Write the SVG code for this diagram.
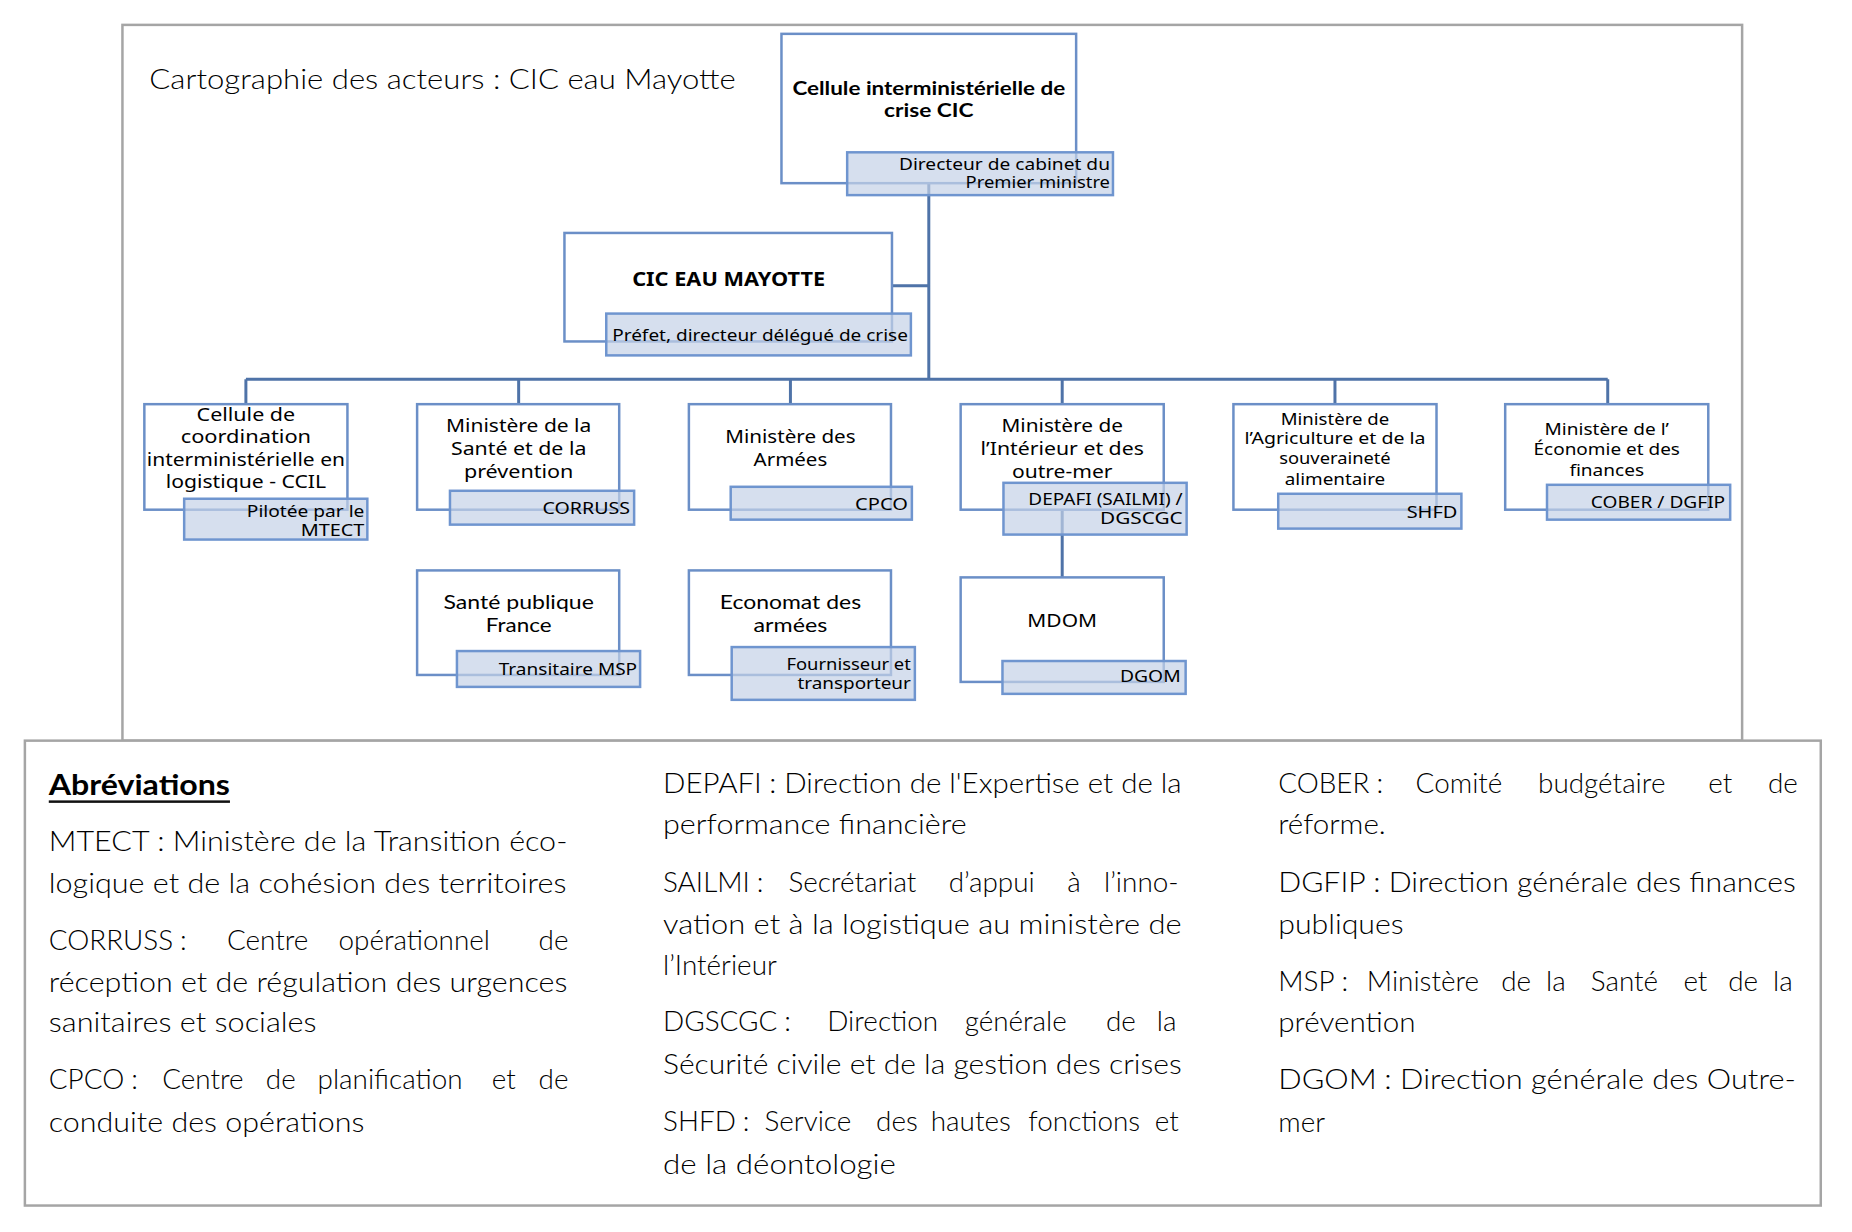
<svg xmlns="http://www.w3.org/2000/svg" width="1852" height="1232" viewBox="0 0 1852 1232">
<style>
.box{fill:#fff;stroke:#6b8fc7;stroke-width:2.5}
.lbl{fill:#c4d1e7;fill-opacity:0.7;stroke:#6f95cf;stroke-width:2.5}
.conn{stroke:#4f73a8;stroke-width:3;fill:none}
.frame{fill:#fff;stroke:#a5a5a5;stroke-width:2.5}
.t{font-family:"Noto Sans","DejaVu Sans",sans-serif;font-size:19px;fill:#000;text-anchor:middle}
.ts{font-size:17px}
.b{font-weight:bold}
.c{font-family:Lato,"Liberation Sans",sans-serif}
.lt{font-family:"Noto Sans","DejaVu Sans",sans-serif;font-size:17px;fill:#000;text-anchor:end}
.ab{font-family:Lato,"Liberation Sans",sans-serif;font-size:28px;font-weight:300;fill:#000}
.ab.b{font-weight:bold}
</style>
<g transform="scale(0.9955)">
<rect class="frame" x="123" y="25" width="1627" height="719"/>
<text class="ab" x="150" y="89" font-size="30" textLength="589" lengthAdjust="spacingAndGlyphs">Cartographie des acteurs : CIC eau Mayotte</text>

<g id="connectors">
<path class="conn" d="M933,184V381M896,287H933M247,381H1615M247,381V406M521,381V406M794,381V406M1067,381V406M1341,381V406M1615,381V406M1067,512V580"/>
</g>

<g id="cic">
<rect class="box" x="785" y="34" width="296" height="150"/>
<rect class="lbl" x="851" y="153" width="267" height="43"/>
<text class="t c b" x="933" y="95" textLength="274" lengthAdjust="spacingAndGlyphs">Cellule interministérielle de</text>
<text class="t c b" x="933" y="118" textLength="90" lengthAdjust="spacingAndGlyphs">crise CIC</text>
<text class="lt c" x="1115" y="171" textLength="212" lengthAdjust="spacingAndGlyphs">Directeur de cabinet du</text>
<text class="lt c" x="1115" y="189" textLength="145" lengthAdjust="spacingAndGlyphs">Premier ministre</text>
</g>

<g id="cic-eau">
<rect class="box" x="567" y="234" width="329" height="109"/>
<rect class="lbl" x="609" y="315" width="306" height="42"/>
<text class="t b" x="732" y="287" textLength="194" lengthAdjust="spacingAndGlyphs">CIC EAU MAYOTTE</text>
<text class="lt" x="912" y="343" textLength="297" lengthAdjust="spacingAndGlyphs">Préfet, directeur délégué de crise</text>
</g>

<g id="ccil">
<rect class="box" x="145" y="406" width="204" height="106"/>
<rect class="lbl" x="185" y="501" width="184" height="41"/>
<text class="t" x="247" y="423" textLength="99" lengthAdjust="spacingAndGlyphs">Cellule de</text>
<text class="t" x="247" y="445" textLength="131" lengthAdjust="spacingAndGlyphs">coordination</text>
<text class="t" x="247" y="468" textLength="199" lengthAdjust="spacingAndGlyphs">interministérielle en</text>
<text class="t" x="247" y="490" textLength="161" lengthAdjust="spacingAndGlyphs">logistique - CCIL</text>
<text class="lt" x="366" y="519" textLength="118" lengthAdjust="spacingAndGlyphs">Pilotée par le</text>
<text class="lt" x="366" y="538" textLength="64" lengthAdjust="spacingAndGlyphs">MTECT</text>
</g>

<g id="sante">
<rect class="box" x="419" y="406" width="203" height="106"/>
<rect class="lbl" x="452" y="493" width="185" height="34"/>
<text class="t" x="521" y="434" textLength="146" lengthAdjust="spacingAndGlyphs">Ministère de la</text>
<text class="t" x="521" y="457" textLength="136" lengthAdjust="spacingAndGlyphs">Santé et de la</text>
<text class="t" x="521" y="480" textLength="110" lengthAdjust="spacingAndGlyphs">prévention</text>
<text class="lt" x="633" y="516" textLength="88" lengthAdjust="spacingAndGlyphs">CORRUSS</text>
</g>

<g id="armees">
<rect class="box" x="692" y="406" width="203" height="106"/>
<rect class="lbl" x="734" y="489" width="182" height="33"/>
<text class="t" x="794" y="445" textLength="131" lengthAdjust="spacingAndGlyphs">Ministère des</text>
<text class="t" x="794" y="468" textLength="74" lengthAdjust="spacingAndGlyphs">Armées</text>
<text class="lt" x="912" y="512" textLength="53" lengthAdjust="spacingAndGlyphs">CPCO</text>
</g>

<g id="interieur">
<rect class="box" x="965" y="406" width="204" height="106"/>
<rect class="lbl" x="1008" y="485" width="184" height="52"/>
<text class="t" x="1067" y="434" textLength="122" lengthAdjust="spacingAndGlyphs">Ministère de</text>
<text class="t" x="1067" y="457" textLength="164" lengthAdjust="spacingAndGlyphs">l’Intérieur et des</text>
<text class="t" x="1067" y="480" textLength="101" lengthAdjust="spacingAndGlyphs">outre-mer</text>
<text class="lt" x="1188" y="507" textLength="155" lengthAdjust="spacingAndGlyphs">DEPAFI (SAILMI) /</text>
<text class="lt" x="1188" y="526" textLength="83" lengthAdjust="spacingAndGlyphs">DGSCGC</text>
</g>

<g id="agriculture">
<rect class="box" x="1239" y="406" width="204" height="106"/>
<rect class="lbl" x="1284" y="496" width="184" height="35"/>
<text class="t ts" x="1341" y="427" textLength="109" lengthAdjust="spacingAndGlyphs">Ministère de</text>
<text class="t ts" x="1341" y="446" textLength="182" lengthAdjust="spacingAndGlyphs">l’Agriculture et de la</text>
<text class="t ts" x="1341" y="466" textLength="112" lengthAdjust="spacingAndGlyphs">souveraineté</text>
<text class="t ts" x="1341" y="487" textLength="101" lengthAdjust="spacingAndGlyphs">alimentaire</text>
<text class="lt" x="1464" y="520" textLength="51" lengthAdjust="spacingAndGlyphs">SHFD</text>
</g>

<g id="economie">
<rect class="box" x="1512" y="406" width="204" height="106"/>
<rect class="lbl" x="1554" y="487" width="184" height="35"/>
<text class="t ts" x="1614" y="437" textLength="125" lengthAdjust="spacingAndGlyphs">Ministère de l’</text>
<text class="t ts" x="1614" y="457" textLength="147" lengthAdjust="spacingAndGlyphs">Économie et des</text>
<text class="t ts" x="1614" y="478" textLength="75" lengthAdjust="spacingAndGlyphs">finances</text>
<text class="lt" x="1733" y="510" textLength="135" lengthAdjust="spacingAndGlyphs">COBER / DGFIP</text>
</g>

<g id="spf">
<rect class="box" x="419" y="573" width="203" height="105"/>
<rect class="lbl" x="459" y="654" width="184" height="36"/>
<text class="t c" x="521" y="612" textLength="151" lengthAdjust="spacingAndGlyphs">Santé publique</text>
<text class="t c" x="521" y="635" textLength="66" lengthAdjust="spacingAndGlyphs">France</text>
<text class="lt c" x="640" y="678" textLength="139" lengthAdjust="spacingAndGlyphs">Transitaire MSP</text>
</g>

<g id="economat">
<rect class="box" x="692" y="573" width="203" height="105"/>
<rect class="lbl" x="735" y="650" width="184" height="53"/>
<text class="t c" x="794" y="612" textLength="142" lengthAdjust="spacingAndGlyphs">Economat des</text>
<text class="t c" x="794" y="635" textLength="74" lengthAdjust="spacingAndGlyphs">armées</text>
<text class="lt c" x="915" y="673" textLength="125" lengthAdjust="spacingAndGlyphs">Fournisseur et</text>
<text class="lt c" x="915" y="692" textLength="114" lengthAdjust="spacingAndGlyphs">transporteur</text>
</g>

<g id="mdom">
<rect class="box" x="965" y="580" width="204" height="105"/>
<rect class="lbl" x="1007" y="664" width="184" height="33"/>
<text class="t" x="1067" y="630" textLength="70" lengthAdjust="spacingAndGlyphs">MDOM</text>
<text class="lt" x="1186" y="685" textLength="61" lengthAdjust="spacingAndGlyphs">DGOM</text>
</g>

<g id="abreviations">
<rect class="frame" x="25" y="744" width="1804" height="467"/>
<text class="ab b" x="49" y="799" textLength="182" lengthAdjust="spacingAndGlyphs">Abréviations</text>
<rect x="49" y="804" width="182" height="2.5" fill="#111"/>

<text class="ab" x="49" y="855" textLength="521" lengthAdjust="spacingAndGlyphs">MTECT&#8239;: Ministère de la Transition éco-</text>
<text class="ab" x="49" y="897" textLength="520" lengthAdjust="spacingAndGlyphs">logique et de la cohésion des territoires</text>
<text class="ab" y="954"><tspan x="49">CORRUSS&#8239;:</tspan> <tspan x="228">Centre</tspan> <tspan x="340">opérationnel</tspan> <tspan x="541">de</tspan></text>
<text class="ab" x="49" y="996" textLength="521" lengthAdjust="spacingAndGlyphs">réception et de régulation des urgences</text>
<text class="ab" x="49" y="1037" textLength="269" lengthAdjust="spacingAndGlyphs">sanitaires et sociales</text>
<text class="ab" y="1094"><tspan x="49">CPCO&#8239;:</tspan> <tspan x="163">Centre</tspan> <tspan x="267">de</tspan> <tspan x="319">planification</tspan> <tspan x="494">et</tspan> <tspan x="541">de</tspan></text>
<text class="ab" x="49" y="1137" textLength="317" lengthAdjust="spacingAndGlyphs">conduite des opérations</text>

<text class="ab" x="666" y="797" textLength="521" lengthAdjust="spacingAndGlyphs">DEPAFI&#8239;: Direction de l'Expertise et de la</text>
<text class="ab" x="666" y="838" textLength="305" lengthAdjust="spacingAndGlyphs">performance financière</text>
<text class="ab" y="896"><tspan x="666">SAILMI&#8239;:</tspan> <tspan x="792">Secrétariat</tspan> <tspan x="953">d’appui</tspan> <tspan x="1072">à</tspan> <tspan x="1109">l’inno-</tspan></text>
<text class="ab" x="666" y="938" textLength="521" lengthAdjust="spacingAndGlyphs">vation et à la logistique au ministère de</text>
<text class="ab" x="666" y="979">l’Intérieur</text>
<text class="ab" y="1036"><tspan x="666">DGSCGC&#8239;:</tspan> <tspan x="831">Direction</tspan> <tspan x="969">générale</tspan> <tspan x="1111">de</tspan> <tspan x="1162">la</tspan></text>
<text class="ab" x="666" y="1079" textLength="521" lengthAdjust="spacingAndGlyphs">Sécurité civile et de la gestion des crises</text>
<text class="ab" y="1136"><tspan x="666">SHFD&#8239;:</tspan> <tspan x="768">Service</tspan> <tspan x="880">des</tspan> <tspan x="935">hautes</tspan> <tspan x="1033">fonctions</tspan> <tspan x="1160">et</tspan></text>
<text class="ab" x="666" y="1179" textLength="234" lengthAdjust="spacingAndGlyphs">de la déontologie</text>

<text class="ab" y="797"><tspan x="1284">COBER&#8239;:</tspan> <tspan x="1422">Comité</tspan> <tspan x="1545">budgétaire</tspan> <tspan x="1716">et</tspan> <tspan x="1776">de</tspan></text>
<text class="ab" x="1284" y="838" textLength="108" lengthAdjust="spacingAndGlyphs">réforme.</text>
<text class="ab" x="1284" y="896" textLength="520" lengthAdjust="spacingAndGlyphs">DGFIP&#8239;: Direction générale des finances</text>
<text class="ab" x="1284" y="938" textLength="126" lengthAdjust="spacingAndGlyphs">publiques</text>
<text class="ab" y="995"><tspan x="1284">MSP&#8239;:</tspan> <tspan x="1373">Ministère</tspan> <tspan x="1508">de</tspan> <tspan x="1553">la</tspan> <tspan x="1598">Santé</tspan> <tspan x="1691">et</tspan> <tspan x="1736">de</tspan> <tspan x="1781">la</tspan></text>
<text class="ab" x="1284" y="1037" textLength="138" lengthAdjust="spacingAndGlyphs">prévention</text>
<text class="ab" x="1284" y="1094" textLength="520" lengthAdjust="spacingAndGlyphs">DGOM&#8239;: Direction générale des Outre-</text>
<text class="ab" x="1284" y="1137" textLength="47" lengthAdjust="spacingAndGlyphs">mer</text>
</g>
</g>
</svg>
